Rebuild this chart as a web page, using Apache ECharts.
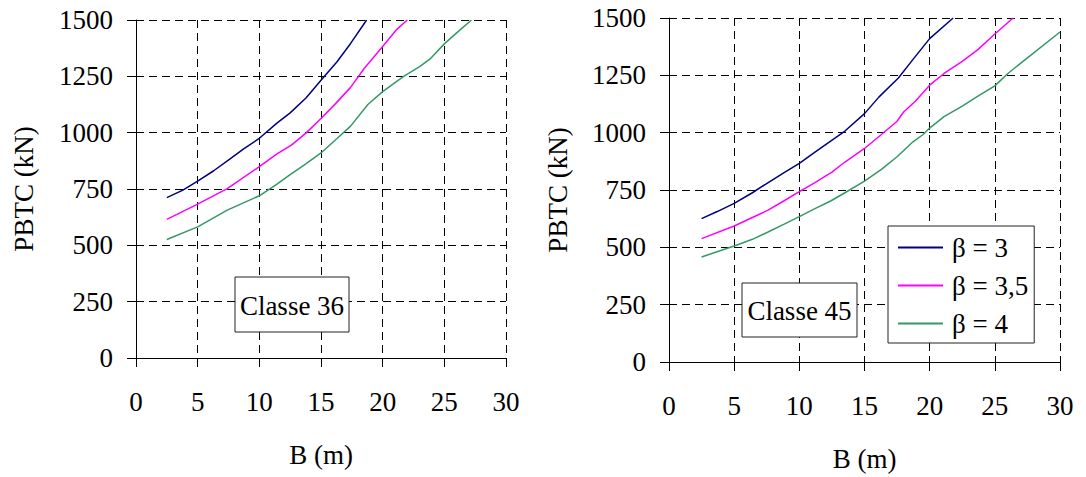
<!DOCTYPE html>
<html><head><meta charset="utf-8">
<script src="https://cdn.jsdelivr.net/npm/echarts@6/dist/echarts.min.js"></script>
<style>html,body{margin:0;padding:0;background:#fff}#c{width:1086px;height:477px}</style>
</head><body><div id="c"></div>
<script>
// ---- Data ----
const seriesNames = ['β = 3', 'β = 3,5', 'β = 4'];
const panelLabels = ['Classe 36', 'Classe 45'];
const xTickStep = 5, xMax = 30;
const yTickStep = 250, yMax = 1500;

// Classe 36
const B36_b3  = [2.5, 3.8, 5, 6.3, 7.6, 8.7, 10, 11.4, 12.5, 13.8, 15, 16.3, 17.4, 18.7];
const P36_b3  = [712, 745, 785, 831, 883, 927, 975, 1041, 1088, 1155, 1233, 1315, 1396, 1500];
const B36_b35 = [2.5, 5, 7.4, 10, 11.4, 12.6, 13.8, 15, 16.2, 17.4, 18.5, 20, 21.1, 22];
const P36_b35 = [615, 683, 752, 849, 905, 945, 999, 1063, 1130, 1201, 1285, 1382, 1456, 1500];
const B36_b4  = [2.5, 5, 7.4, 10, 11.4, 12.5, 13.8, 15, 16.3, 17.4, 18.8, 20, 21.7, 23, 23.9, 25, 26, 27.2];
const P36_b4  = [526, 582, 656, 720, 771, 814, 863, 910, 974, 1029, 1125, 1182, 1250, 1293, 1330, 1394, 1443, 1500];

// Classe 45
const B45_b3  = [2.5, 3.7, 5, 6.4, 7.4, 8.8, 10, 11.2, 12.4, 13.5, 15, 16.1, 17.6, 18.8, 20, 21.8];
const P45_b3  = [625, 656, 692, 738, 775, 825, 866, 915, 963, 1007, 1083, 1155, 1238, 1325, 1410, 1500];
const B45_b35 = [2.5, 5, 6.4, 7.6, 8.8, 10, 11.2, 12.5, 13.5, 15, 16.3, 17.5, 18, 18.9, 20, 21.1, 22.5, 23.7, 25, 26.4];
const P45_b35 = [538, 593, 630, 662, 702, 743, 782, 828, 872, 931, 992, 1050, 1090, 1137, 1207, 1258, 1311, 1362, 1430, 1500];
const B45_b4  = [2.5, 5, 6.4, 7.6, 8.8, 10, 11.2, 12.4, 13.5, 15, 16.3, 17.5, 18.7, 19.5, 20, 21.1, 22.5, 23.7, 25, 26, 27.5, 30];
const P45_b4  = [458, 506, 535, 567, 600, 634, 669, 702, 738, 789, 840, 895, 959, 992, 1020, 1070, 1116, 1159, 1204, 1258, 1326, 1439];

const colors = ['#000080', '#FF00FF', '#339966'];
const FONT = 'Liberation Serif';

const zip = (xs, ys) => xs.map((x, i) => [x, ys[i]]);
const panels = [
  [zip(B36_b3, P36_b3), zip(B36_b35, P36_b35), zip(B36_b4, P36_b4)],
  [zip(B45_b3, P45_b3), zip(B45_b35, P45_b35), zip(B45_b4, P45_b4)]
];

const dash = { type: [8, 5], color: '#000', width: 1 };
const plain = v => String(v);
function xAxis(i) {
  return {
    type: 'value', gridIndex: i, min: 0, max: xMax, interval: xTickStep,
    name: 'B (m)', nameLocation: 'middle', nameGap: 83,
    nameTextStyle: { fontFamily: FONT, fontSize: 27, color: '#000' },
    axisLine: { show: true, lineStyle: { color: '#000', width: 1 } },
    axisTick: { show: true, length: 9, lineStyle: { color: '#000' } },
    axisLabel: { fontFamily: FONT, fontSize: 27, color: '#000', margin: 30, formatter: plain },
    splitLine: { show: true, lineStyle: dash }
  };
}
function yAxis(i, gap) {
  return {
    type: 'value', gridIndex: i, min: 0, max: yMax, interval: yTickStep,
    name: 'PBTC (kN)', nameLocation: 'middle', nameGap: gap, nameRotate: 90,
    nameTextStyle: { fontFamily: FONT, fontSize: 27, color: '#000' },
    axisLine: { show: true, lineStyle: { color: '#000', width: 1 } },
    axisTick: { show: true, length: 9, lineStyle: { color: '#000' } },
    axisLabel: { fontFamily: FONT, fontSize: 27, color: '#000', margin: 23, formatter: plain },
    splitLine: { show: true, lineStyle: dash }
  };
}

const series = [];
panels.forEach((p, gi) => {
  p.forEach((d, si) => {
    series.push({
      type: 'line', name: seriesNames[si], xAxisIndex: gi, yAxisIndex: gi,
      data: d, showSymbol: false, symbol: 'none', smooth: false, clip: true,
      lineStyle: { color: colors[si], width: 1.5 }, itemStyle: { color: colors[si] },
      emphasis: { disabled: true }, z: 3
    });
  });
});

function labelBox(x, y, w, h, text) {
  return {
    type: 'group', z: 50, children: [
      { type: 'rect', shape: { x: x, y: y, width: w, height: h }, style: { fill: '#fff', stroke: '#222', lineWidth: 1 }, z: 50 },
      { type: 'text', x: x + w / 2, y: y + h / 2 + 1, style: { text: text, fill: '#000', fontFamily: FONT, fontSize: 27, align: 'center', verticalAlign: 'middle' }, z: 51 }
    ]
  };
}

const chart = echarts.init(document.getElementById('c'), null, { renderer: 'svg' });
chart.setOption({
  animation: false,
  backgroundColor: '#fff',
  grid: [
    { left: 136, top: 20, width: 370, height: 338 },
    { left: 669, top: 18, width: 391, height: 345 }
  ],
  xAxis: [xAxis(0), xAxis(1)],
  yAxis: [yAxis(0, 99), yAxis(1, 98)],
  legend: {
    data: seriesNames, orient: 'vertical', left: 888, top: 226,
    padding: [8, 6, 6, 10], itemGap: 11, itemWidth: 45, itemHeight: 2, icon: 'rect',
    borderColor: '#222', borderWidth: 1, backgroundColor: '#fff',
    textStyle: { fontFamily: FONT, fontSize: 27, color: '#000', padding: [0, 0, 0, 4] },
    selectedMode: false, z: 50
  },
  graphic: [
    labelBox(235, 277, 114, 55, panelLabels[0]),
    labelBox(742, 283, 115, 54, panelLabels[1])
  ],
  series: series
});
</script>
</body></html>
